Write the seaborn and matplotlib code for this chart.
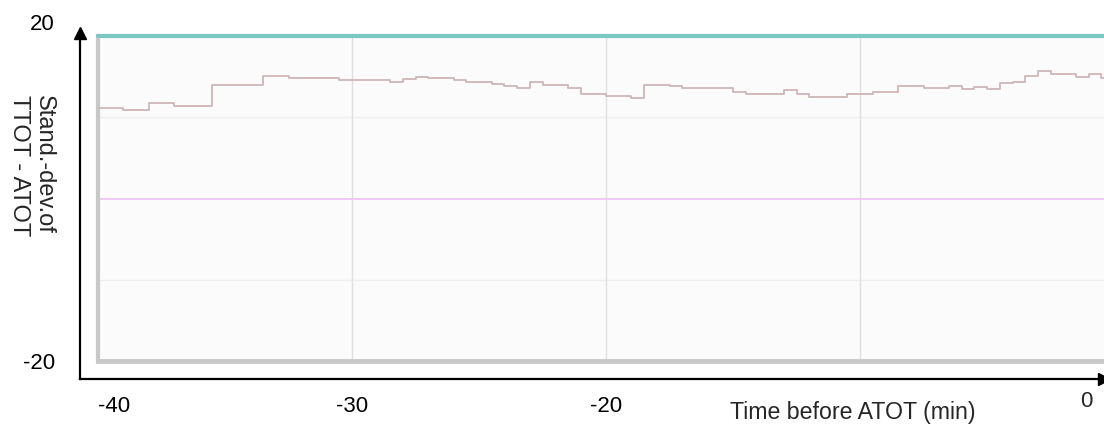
import numpy as np
import pandas as pd
import seaborn as sns
import matplotlib
matplotlib.use('Agg')
import matplotlib.pyplot as plt
from matplotlib.transforms import ScaledTranslation

# step changes of the std-dev curve (minutes before ATOT, value)
step_time = [-40, -39, -38, -37, -35.5, -33.5, -32.5, -30.5, -28.5, -28, -27.5,
             -27, -26, -25.5, -24.5, -24, -23.5, -23, -22.5, -21.5, -21, -20,
             -19, -18.5, -17.5, -17, -15, -14.5, -13, -12.5, -12, -10.5, -9.5,
             -8.5, -7.5, -6.5, -6, -5.5, -5, -4.5, -4, -3.5, -3, -2.5, -1.5,
             -1, -0.5, 0]
step_value = [11.2, 10.9, 11.7, 11.35, 14.0, 15.1, 14.8, 14.6, 14.4, 14.7, 15.0,
              14.8, 14.6, 14.4, 14.07, 13.86, 13.66, 14.28, 14.0, 13.66, 12.84, 12.63,
              12.35, 14.0, 13.8, 13.54, 13.05, 12.84, 13.37, 12.84, 12.55, 12.84, 13.05,
              13.8, 13.6, 13.8, 13.46, 13.75, 13.46, 14.2, 14.4, 15.1, 15.7, 15.3, 15.0,
              15.3, 14.8, 14.8]

upper_limit = 20
zero_line = 0

x_ticks = [-40, -30, -20, -10]
x_labels = ['-40', '-30', '-20', '']
y_ticks = [-20, -10, 0, 10, 20]
y_labels = ['-20', '', '', '', '20']

df = pd.DataFrame({'t': step_time, 'sd': step_value})

sns.set_style('white')
plt.rcParams['font.family'] = ['Liberation Sans', 'DejaVu Sans']

W, H = 1104, 429
fig = plt.figure(figsize=(W / 100, H / 100), dpi=100)

# outer black axes with arrows
ax_out = fig.add_axes([80 / W, 1 - 379 / H, 1 - 80 / W, (379 - 33) / H])
ax_out.patch.set_alpha(0)
ax_out.set_xticks([])
ax_out.set_yticks([])
for s in ['top', 'right']:
    ax_out.spines[s].set_visible(False)
for s in ['left', 'bottom']:
    ax_out.spines[s].set_color('black')
    ax_out.spines[s].set_linewidth(1.6)
ax_out.plot(1, 0, '>k', ms=9, transform=ax_out.transAxes, clip_on=False)
ax_out.plot(0, 1, '^k', ms=9, transform=ax_out.transAxes, clip_on=False)

# inner plot area
ax = fig.add_axes([98 / W, 1 - 361 / H, 1006 / W, 325 / H])
ax.set_facecolor('#fbfbfb')

ax.axhline(10, color='#efefef', lw=1, zorder=1)
ax.axhline(-10, color='#efefef', lw=1, zorder=1)
for xv in x_ticks[1:]:
    ax.axvline(xv, color='#e0e0e0', lw=1, zorder=1)
ax.axhline(zero_line, color='#f2c4f2', lw=1.3, zorder=2)
ax.axhline(upper_limit, color='#7cc9c3', lw=3, zorder=3, clip_on=False)

sns.lineplot(data=df, x='t', y='sd', ax=ax, drawstyle='steps-post',
             color='#ceb6b8', lw=1.3, zorder=4)

ax.set_xlim(-40, -0.4)
ax.set_ylim(-20, 20)
ax.set_xlabel('')
ax.set_ylabel('')

ax.set_xticks(x_ticks, labels=x_labels)
ax.set_yticks(y_ticks, labels=y_labels)
ax.tick_params(axis='x', length=0, pad=25, labelsize=16, colors='black')
ax.tick_params(axis='y', length=0, pad=31, labelsize=16, colors='black')
for lab in ax.get_xticklabels():
    if lab.get_text() == '-40':
        lab.set_horizontalalignment('left')
for lab in ax.get_yticklabels():
    if lab.get_text() == '20':
        lab.set_transform(lab.get_transform() + ScaledTranslation(0, 0.14, fig.dpi_scale_trans))

ax.spines['top'].set_visible(False)
ax.spines['right'].set_visible(False)
ax.spines['left'].set_color('#c8c8c8')
ax.spines['left'].set_linewidth(3)
ax.spines['bottom'].set_color('#c8c8c8')
ax.spines['bottom'].set_linewidth(3.5)

ax.text(0.989, -0.125, '0', transform=ax.transAxes, ha='right', va='center', fontsize=16)
ax.text(0.75, -0.16, 'Time before ATOT (min)', transform=ax.transAxes,
        ha='center', va='center', fontsize=16.7)

fig.text(31.5 / W, 1 - 95 / H, 'Stand.-dev.of\nTTOT - ATOT', rotation=-90,
         ha='center', va='top', multialignment='left', fontsize=17)

fig.savefig('out.png', dpi=100)
